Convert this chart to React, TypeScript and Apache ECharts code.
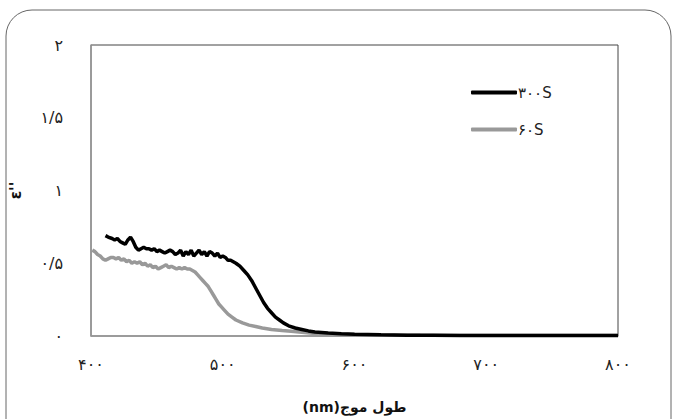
import React, { useEffect, useRef } from "react";
import * as echarts from "echarts";

const seriesNames = ["۳۰۰S", "۶۰S"];
const xTicks = [400, 500, 600, 700, 800];
const yTicks = [0, 0.5, 1, 1.5, 2];

const data300: [number, number][] = [
  [411, 0.69], [413, 0.68], [416, 0.67], [418, 0.66], [420, 0.67], [422, 0.65], [424, 0.64],
  [426, 0.63], [428, 0.66], [430, 0.68], [432, 0.65], [434, 0.61], [436, 0.59], [438, 0.6],
  [440, 0.61], [442, 0.6], [444, 0.6], [446, 0.59], [448, 0.6], [450, 0.58], [452, 0.59],
  [454, 0.58], [456, 0.57], [458, 0.58], [460, 0.59], [462, 0.58], [464, 0.56], [466, 0.57],
  [468, 0.59], [470, 0.55], [472, 0.58], [474, 0.56], [476, 0.59], [478, 0.55], [480, 0.57],
  [482, 0.59], [484, 0.56], [486, 0.58], [488, 0.55], [490, 0.58], [492, 0.57], [494, 0.55],
  [496, 0.57], [498, 0.54], [500, 0.55], [502, 0.54], [504, 0.52], [506, 0.52], [508, 0.51],
  [510, 0.5], [513, 0.48], [516, 0.45], [519, 0.42], [522, 0.38], [525, 0.33], [528, 0.28],
  [531, 0.23], [534, 0.19], [537, 0.16], [540, 0.13], [543, 0.11], [546, 0.09], [550, 0.07],
  [555, 0.055], [560, 0.045], [565, 0.035], [570, 0.028], [580, 0.02], [590, 0.015],
  [600, 0.012], [620, 0.008], [640, 0.006], [660, 0.005], [680, 0.004], [700, 0.004],
  [720, 0.003], [740, 0.003], [760, 0.003], [780, 0.003], [800, 0.003],
];

const data60: [number, number][] = [
  [401, 0.59], [403, 0.58], [405, 0.56], [407, 0.55], [409, 0.53], [411, 0.52], [413, 0.53],
  [415, 0.54], [417, 0.54], [419, 0.53], [421, 0.54], [423, 0.52], [425, 0.53], [427, 0.51],
  [429, 0.52], [431, 0.5], [433, 0.51], [435, 0.5], [437, 0.51], [439, 0.49], [441, 0.5],
  [443, 0.48], [445, 0.49], [447, 0.47], [449, 0.48], [451, 0.46], [453, 0.47], [455, 0.48],
  [457, 0.49], [459, 0.47], [461, 0.48], [463, 0.47], [465, 0.46], [467, 0.47], [469, 0.46],
  [471, 0.47], [473, 0.46], [475, 0.46], [477, 0.45], [479, 0.44], [481, 0.42], [483, 0.4],
  [485, 0.38], [487, 0.36], [489, 0.34], [491, 0.31], [493, 0.28], [495, 0.25], [497, 0.22],
  [499, 0.2], [501, 0.18], [504, 0.15], [507, 0.13], [510, 0.11], [515, 0.09], [520, 0.075],
  [525, 0.065], [530, 0.055], [537, 0.045], [545, 0.038], [552, 0.032], [560, 0.025],
  [570, 0.018], [580, 0.014], [600, 0.01], [620, 0.007], [650, 0.005], [700, 0.003],
  [750, 0.003], [800, 0.003],
];

const faDigits = "۰۱۲۳۴۵۶۷۸۹";
const toFa = (v: number) =>
  String(v)
    .replace(/[0-9]/g, (d) => faDigits[Number(d)])
    .replace(".", "/");
const toFaX = (v: number) =>
  String(v).replace(/[0-9]/g, (d) => faDigits[Number(d)]);

const FONT = "DejaVu Sans";
const xName = "\u202Bطول موج(nm)\u202C";

export default function App() {
  const ref = useRef<HTMLDivElement>(null);
  useEffect(() => {
    if (!ref.current) return;
    const chart = echarts.init(ref.current, undefined, { renderer: "svg" });
    chart.setOption({
      animation: false,
      backgroundColor: "#ffffff",
      textStyle: { fontFamily: FONT },
      graphic: [
        {
          type: "rect",
          z: -10,
          shape: { x: 6, y: 10, width: 665, height: 440, r: 26 },
          style: { fill: "none", stroke: "#666", lineWidth: 1 },
        },
      ],
      grid: {
        left: 88,
        right: 57,
        top: 45,
        bottom: 79,
        show: true,
        borderColor: "#444",
        borderWidth: 1,
      },
      legend: {
        orient: "vertical",
        left: 466,
        top: 80,
        icon: "roundRect",
        itemWidth: 46,
        itemHeight: 4,
        itemGap: 22,
        textStyle: { fontFamily: FONT, fontSize: 15, color: "#222", padding: [0, 0, 0, -4] },
        data: seriesNames,
      },
      xAxis: {
        type: "value",
        min: xTicks[0],
        max: xTicks[xTicks.length - 1],
        interval: 100,
        name: xName,
        nameLocation: "middle",
        nameGap: 64,
        nameTextStyle: { fontFamily: FONT, fontSize: 14, fontWeight: "bold", color: "#111" },
        axisLine: { show: true, lineStyle: { color: "#999", width: 1.5 } },
        axisTick: { show: false },
        splitLine: { show: false },
        axisLabel: {
          margin: 20,
          fontFamily: FONT,
          fontSize: 16,
          color: "#222",
          formatter: (v: number) => toFaX(v),
        },
      },
      yAxis: {
        type: "value",
        min: yTicks[0],
        max: yTicks[yTicks.length - 1],
        interval: 0.5,
        name: "ε''",
        nameLocation: "middle",
        nameRotate: 90,
        nameGap: 68,
        nameTextStyle: { fontFamily: FONT, fontSize: 15, fontWeight: "bold", color: "#111" },
        axisLine: { show: true, lineStyle: { color: "#999", width: 1.5 } },
        axisTick: { show: false },
        splitLine: { show: false },
        axisLabel: {
          margin: 28,
          fontFamily: FONT,
          fontSize: 16,
          color: "#222",
          formatter: (v: number) => toFa(v),
        },
      },
      series: [
        {
          name: seriesNames[0],
          type: "line",
          data: data300,
          symbol: "none",
          lineStyle: { color: "#000", width: 3.5 },
          itemStyle: { color: "#000" },
          z: 3,
        },
        {
          name: seriesNames[1],
          type: "line",
          data: data60,
          symbol: "none",
          lineStyle: { color: "#999", width: 3.5 },
          itemStyle: { color: "#999" },
          z: 2,
        },
      ],
    });
    return () => chart.dispose();
  }, []);
  return (
    <div
      ref={ref}
      style={{ position: "absolute", left: 0, top: 0, width: 675, height: 419 }}
    />
  );
}
